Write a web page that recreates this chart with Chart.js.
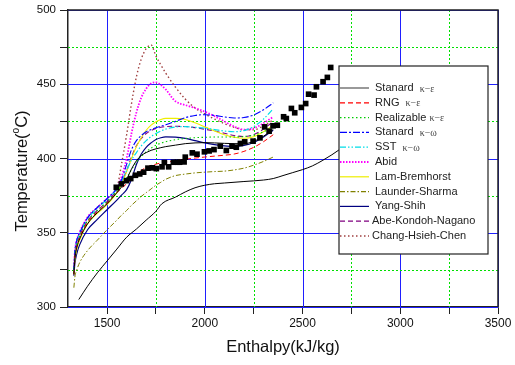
<!DOCTYPE html>
<html>
<head>
<meta charset="utf-8">
<script src="https://cdn.jsdelivr.net/npm/chart.js@4.4.1/dist/chart.umd.min.js"></script>
<style>
  html, body { margin: 0; padding: 0; background: #fff; }
</style>
</head>
<body>
<canvas id="chart" width="515" height="365"></canvas>
<script>
// enthalpy grid shared by the model curves (kJ/kg)
const enthalpy = [1330, 1335, 1345, 1360, 1400, 1450, 1500, 1550, 1575, 1600, 1625, 1650, 1675, 1700, 1725,
    1750, 1775, 1800, 1850, 1900, 1950, 2000, 2050, 2100, 2150, 2200, 2250, 2300, 2350];

// model temperatures (°C) on that grid
const stdKe = [322, 332, 340, 346, 356, 363.5, 369.5, 377, 381, 386, 393, 398.5, 402, 404, 405.5, 406.5, 407.3, 408, 409, 410, 410.5, 410.7, 410.5, 410.2, 410, 410, 411.5, 415, 419.5];
const rng = [322, 333, 341, 347, 357, 364, 370, 377, 380, 383, 386, 389, 392, 394, 395.3, 396.2, 397, 397.5, 398.5, 399.5, 400.3, 401, 401.6, 402.2, 403, 404.8, 407.5, 411.3, 416];
const realizable = [323, 334, 342, 348, 358, 365, 371, 378, 382, 387, 392.5, 397.5, 401.5, 404.5, 407, 409, 410.3, 411.3, 412.7, 413.5, 414, 414.3, 414.5, 414.5, 414.5, 414.8, 415.8, 418, 421];
const stdKw = [325, 337, 345, 350, 360, 367, 373, 380, 386, 396, 406, 412, 415.5, 418, 419.5, 420.7, 421.7, 422.7, 425, 427.5, 429, 429.5, 429, 428, 427.3, 427.6, 429.3, 432.8, 437.5];
const sst = [324, 336, 344, 349.5, 359.5, 366.5, 372.5, 379.5, 385, 392, 399, 404, 408.5, 412, 414.8, 416.8, 418.5, 419.8, 421.2, 421.5, 421, 420.4, 419.5, 418.5, 418, 418.8, 421.5, 426.5, 433.5];
const abid = [325, 337, 345, 350.5, 360.5, 367, 373, 380, 388, 400, 417, 431, 441, 447, 450.5, 451.3, 449.5, 446.5, 438.5, 436, 434, 431.5, 428.5, 425, 421.5, 419.5, 420.3, 423.8, 428];
const lamBremhorst = [322, 331, 339, 345, 356, 363, 369, 377, 383, 391, 400, 408, 414, 419, 422.5, 424.8, 426.3, 427, 427, 426.3, 424, 421.3, 418.5, 416, 414.3, 413.6, 414.6, 418, 422.5];
const launderSharma = [313, 320, 325, 330, 338, 345, 352, 358.5, 362, 365, 368.5, 371.5, 374.5, 377, 379.5, 382, 384, 386, 388.5, 389.5, 390.3, 390.8, 391.2, 391.5, 392.3, 393.5, 395.5, 398, 401];
const yangShih = [321, 329, 336, 342, 352, 359, 365.5, 372, 375.5, 379, 386, 396, 403, 407.5, 410.5, 412.8, 414, 414.6, 414.4, 413.5, 412, 410.5, 409.3, 408.5, 408.1, 408.8, 410.8, 414.5, 419];
const abeKondohNagano = [323, 334, 342, 348, 358, 365, 371, 378.5, 384, 392, 401, 408.5, 413.5, 416.8, 418.8, 420.2, 421, 421.5, 421.7, 421.5, 420.8, 419.7, 418.5, 417, 415.5, 414.8, 416, 419.8, 425];
const changHsiehChen = [324, 336, 344, 350, 360, 367, 373, 380, 397, 416, 437, 455, 467, 474, 476.5, 469, 463, 457.5, 448, 440, 434, 430, 426.5, 423.5, 421, 419.3, 419.3, 422, 426];

// lowest black curve (not in the legend)
const lowerH = [1355, 1400, 1450, 1500, 1550, 1600, 1650, 1700, 1750, 1780, 1850, 1900, 1950, 2000, 2050, 2100, 2200, 2300, 2350, 2400, 2450, 2500, 2550, 2600, 2650, 2700, 2760];
const lowerT = [305, 314, 323, 331, 339, 347, 352.5, 358.5, 364.5, 369.5, 374, 377.5, 380.3, 382, 383, 383.5, 384.5, 385.5, 386.5, 388.5, 390.5, 392.5, 395, 398.5, 402.5, 407, 413];

// experimental points
const expH = [1547, 1573, 1599, 1621, 1645, 1667, 1687, 1709, 1732, 1752, 1781, 1793, 1815, 1839, 1860, 1871, 1894, 1900, 1936, 1960,
    1998, 2022, 2047, 2079, 2110, 2139, 2161, 2182, 2204, 2247, 2282, 2306, 2329, 2349, 2371, 2403, 2417, 2443, 2460, 2494,
    2516, 2531, 2559, 2571, 2605, 2627, 2644];
const expT = [380.6, 382.9, 385.1, 386.5, 388.7, 389.6, 390.8, 393.5, 393.7, 393.2, 394.4, 397.3, 394.4, 397.5, 397.5, 397.5, 397.7, 400.9, 403.8, 402.9,
    404.5, 405.1, 406.0, 408.3, 405.4, 408.3, 407.6, 410.1, 411.2, 411.7, 413.9, 421.3, 418.4, 422.0, 422.4, 428.1, 426.9, 433.7, 430.8, 434.4,
    437.0, 443.3, 442.7, 448.3, 451.7, 454.6, 461.3];

const modelNames = ['Stanard  κ−ε', 'RNG  κ−ε', 'Realizable κ−ε', 'Stanard  κ−ω', 'SST  κ−ω', 'Abid',
    'Lam-Bremhorst', 'Launder-Sharma', 'Yang-Shih', 'Abe-Kondoh-Nagano', 'Chang-Hsieh-Chen'];
const modelTemps = [stdKe, rng, realizable, stdKw, sst, abid, lamBremhorst, launderSharma, yangShih, abeKondohNagano, changHsiehChen];

const xTicks = [1500, 1750, 2000, 2250, 2500, 2750, 3000, 3250, 3500];
const yTicks = [300, 325, 350, 375, 400, 425, 450, 475, 500];

// line styles, same order as modelNames
const lineColors = ['#000000', '#ff0000', '#00cc00', '#0000ff', '#00dde8', '#ff00ff', '#eeee00', '#808000', '#000080', '#800080', '#a04040'];
const lineDashes = [[], [5, 3], [1.5, 2.5], [7, 2, 2, 2], [6, 2, 1.5, 2, 1.5, 2], [1.5, 1.5], [], [5, 2, 1.5, 2], [], [5, 3], [1.5, 2.5]];
const lineWidths = [1, 1, 1.1, 1.1, 1.2, 1.8, 1.1, 1, 1.2, 1.1, 1.4];

const FONT = "'Liberation Sans', Arial, sans-serif";
const toPoints = (xs, ys) => xs.map((x, i) => ({ x, y: ys[i] }));

const datasets = [{
    label: 'Experiment',
    data: toPoints(expH, expT),
    showLine: false,
    pointStyle: 'rect',
    pointRadius: 4,
    backgroundColor: '#000',
    borderWidth: 0
}];
modelNames.forEach((name, i) => {
    datasets.push({
        label: name,
        data: toPoints(enthalpy, modelTemps[i]),
        borderColor: lineColors[i],
        borderDash: lineDashes[i],
        borderWidth: lineWidths[i],
        pointRadius: 0,
        cubicInterpolationMode: 'monotone',
        fill: false
    });
});
datasets.push({
    label: 'lower',
    data: toPoints(lowerH, lowerT),
    borderColor: '#000',
    borderWidth: 1,
    pointRadius: 0,
    cubicInterpolationMode: 'monotone',
    fill: false
});

// blue solid major grid, green dotted minor grid
const gridLines = {
    id: 'gridLines',
    beforeDatasetsDraw(chart) {
        const { ctx, chartArea: a, scales } = chart;
        ctx.save();
        ctx.lineWidth = 1;
        xTicks.forEach(v => {
            const px = Math.round(scales.x.getPixelForValue(v)) + 0.5;
            const major = v % 500 === 0;
            ctx.strokeStyle = major ? '#1f1fff' : '#00e000';
            ctx.setLineDash(major ? [] : [2, 2]);
            ctx.beginPath();
            ctx.moveTo(px, a.top);
            ctx.lineTo(px, a.bottom);
            ctx.stroke();
        });
        yTicks.forEach(v => {
            const py = Math.round(scales.y.getPixelForValue(v)) + 0.5;
            const major = v % 50 === 0;
            ctx.strokeStyle = major ? '#1f1fff' : '#00e000';
            ctx.setLineDash(major ? [] : [2, 2]);
            ctx.beginPath();
            ctx.moveTo(a.left, py);
            ctx.lineTo(a.right, py);
            ctx.stroke();
        });
        ctx.restore();
    }
};

// frame, y title with superscript and the boxed legend
const overlay = {
    id: 'overlay',
    afterDraw(chart) {
        const { ctx, chartArea: a } = chart;
        ctx.save();
        ctx.strokeStyle = '#222';
        ctx.lineWidth = 1.5;
        ctx.beginPath();
        ctx.moveTo(a.left, a.top);
        ctx.lineTo(a.right, a.top);
        ctx.lineTo(a.right, a.bottom);
        ctx.stroke();

        // y axis title
        ctx.save();
        ctx.translate(22, 171);
        ctx.rotate(-Math.PI / 2);
        ctx.fillStyle = '#111';
        ctx.textBaseline = 'middle';
        const big = '16.5px ' + FONT, small = '10px ' + FONT;
        ctx.font = big;
        const w1 = ctx.measureText('Temperature(').width;
        const w3 = ctx.measureText('C)').width;
        ctx.font = small;
        const w2 = ctx.measureText('o').width;
        const x = -(w1 + w2 + w3) / 2;
        ctx.font = big;
        ctx.fillText('Temperature(', x, 0);
        ctx.font = small;
        ctx.fillText('o', x + w1, -6);
        ctx.font = big;
        ctx.fillText('C)', x + w1 + w2, 0);
        ctx.restore();

        // legend
        const bx = a.left + 271, by = a.top + 56, bw = 149, bh = 188;
        ctx.fillStyle = '#fff';
        ctx.fillRect(bx, by, bw, bh);
        ctx.strokeStyle = '#222';
        ctx.lineWidth = 1.2;
        ctx.strokeRect(bx, by, bw, bh);
        ctx.textBaseline = 'middle';
        modelNames.forEach((name, i) => {
            const y = by + 22 + i * 14.8;
            ctx.beginPath();
            ctx.setLineDash(lineDashes[i]);
            ctx.strokeStyle = i === 0 ? '#555' : lineColors[i];
            ctx.lineWidth = Math.max(1.2, lineWidths[i]);
            ctx.moveTo(bx + 1, y);
            ctx.lineTo(bx + 30, y);
            ctx.stroke();
            ctx.setLineDash([]);
            const m = name.match(/^(.*?)(κ.*)?$/);
            const tx = bx + (name.length > 15 ? 33 : 36);
            ctx.fillStyle = '#222';
            ctx.font = '11px ' + FONT;
            ctx.fillText(m[1], tx, y);
            if (m[2]) {
                const w = ctx.measureText(m[1]).width;
                ctx.font = "10px 'Liberation Serif', 'Times New Roman', serif";
                ctx.fillStyle = '#444';
                ctx.fillText(m[2], tx + w, y + 1);
            }
        });
        ctx.restore();
    }
};

new Chart(document.getElementById('chart'), {
    type: 'line',
    data: { datasets },
    plugins: [gridLines, overlay],
    options: {
        responsive: false,
        animation: false,
        devicePixelRatio: 1,
        layout: { padding: { left: 0, right: 17, top: 10, bottom: 0 } },
        plugins: { legend: { display: false }, tooltip: { enabled: false } },
        scales: {
            x: {
                type: 'linear',
                min: 1300,
                max: 3500,
                afterBuildTicks: s => { s.ticks = xTicks.map(v => ({ value: v })); },
                afterFit: s => { s.height = 58; },
                ticks: {
                    callback: v => (v % 500 === 0 ? v : ''),
                    font: { family: FONT, size: 12 },
                    color: '#111',
                    padding: 2,
                    maxRotation: 0,
                    autoSkip: false
                },
                grid: { drawOnChartArea: false, color: '#222', tickLength: 7 },
                border: { color: '#222', width: 1.5 },
                title: {
                    display: true,
                    text: 'Enthalpy(kJ/kg)',
                    font: { family: FONT, size: 16.5 },
                    color: '#111',
                    padding: { top: 0, bottom: 8 }
                }
            },
            y: {
                type: 'linear',
                min: 300,
                max: 500,
                afterBuildTicks: s => { s.ticks = yTicks.map(v => ({ value: v })); },
                afterFit: s => { s.width = 68; },
                ticks: {
                    callback: v => (v % 50 === 0 ? v : ''),
                    font: { family: FONT, size: 11.5, lineHeight: 1 },
                    color: '#111',
                    padding: 4
                },
                grid: { drawOnChartArea: false, color: '#222', tickLength: 8 },
                border: { color: '#222', width: 1.5 }
            }
        }
    }
});
</script>
</body>
</html>
